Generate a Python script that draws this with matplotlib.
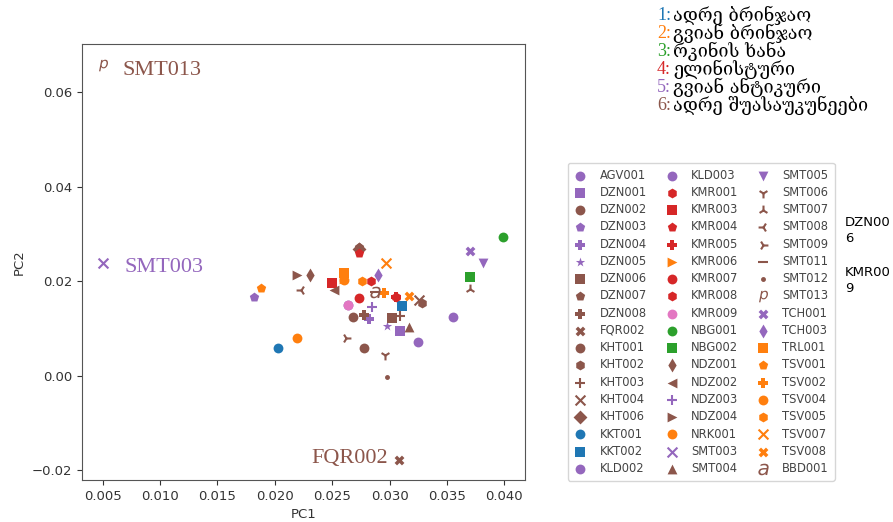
import matplotlib
matplotlib.use("Agg")
import matplotlib.pyplot as plt

# sample data: PC1, PC2, colour, marker
samples = ["AGV001", "DZN001", "DZN002", "DZN003", "DZN004", "DZN005", "DZN006", "DZN007", "DZN008",
           "FQR002", "KHT001", "KHT002", "KHT003", "KHT004", "KHT006", "KKT001", "KKT002", "KLD002",
           "KLD003", "KMR001", "KMR003", "KMR004", "KMR005", "KMR006", "KMR007", "KMR008", "KMR009",
           "NBG001", "NBG002", "NDZ001", "NDZ002", "NDZ003", "NDZ004", "NRK001", "SMT003", "SMT004",
           "SMT005", "SMT006", "SMT007", "SMT008", "SMT009", "SMT011", "SMT012", "SMT013", "TCH001",
           "TCH003", "TRL001", "TSV001", "TSV002", "TSV004", "TSV005", "TSV007", "TSV008", "BBD001"]
pc1 = [0.0355, 0.0309, 0.0268, 0.0182, 0.0282, 0.0298, 0.0302, 0.0273, 0.0278,
       0.0308, 0.0278, 0.0328, 0.0309, 0.0326, 0.0273, 0.0203, 0.0311, 0.0264,
       0.0325, 0.0284, 0.0250, 0.0273, 0.0306, 0.0260, 0.0273, 0.0306, 0.0264,
       0.0399, 0.0370, 0.0231, 0.0252, 0.0285, 0.0219, 0.0219, 0.0050, 0.0317,
       0.0381, 0.0296, 0.0370, 0.0223, 0.0262, 0.0287, 0.0298, 0.0050, 0.0370,
       0.0290, 0.0260, 0.0188, 0.0295, 0.0260, 0.0276, 0.0297, 0.0317, 0.0287]
pc2 = [0.0124, 0.0094, 0.0124, 0.0166, 0.0119, 0.0104, 0.0122, 0.0272, 0.0128,
       -0.0178, 0.0058, 0.0153, 0.0126, 0.0160, 0.0268, 0.0058, 0.0147, 0.0150,
       0.0071, 0.0200, 0.0197, 0.0259, 0.0166, 0.0205, 0.0164, 0.0166, 0.0150,
       0.0294, 0.0209, 0.0214, 0.0182, 0.0145, 0.0214, 0.0079, 0.0238, 0.0103,
       0.0238, 0.0043, 0.0183, 0.0182, 0.0079, 0.0176, -0.0004, 0.0657, 0.0264,
       0.0213, 0.0217, 0.0185, 0.0174, 0.0202, 0.0200, 0.0238, 0.0168, 0.0176]
colors = ["tab:purple", "tab:purple", "tab:brown", "tab:purple", "tab:purple", "tab:purple", "tab:brown", "tab:brown", "tab:brown",
          "tab:brown", "tab:brown", "tab:brown", "tab:brown", "tab:brown", "tab:brown", "tab:blue", "tab:blue", "tab:purple",
          "tab:purple", "tab:red", "tab:red", "tab:red", "tab:red", "tab:orange", "tab:red", "tab:red", "tab:pink",
          "tab:green", "tab:green", "tab:brown", "tab:brown", "tab:purple", "tab:brown", "tab:orange", "tab:purple", "tab:brown",
          "tab:purple", "tab:brown", "tab:brown", "tab:brown", "tab:brown", "tab:brown", "tab:brown", "tab:brown", "tab:purple",
          "tab:purple", "tab:orange", "tab:orange", "tab:orange", "tab:orange", "tab:orange", "tab:orange", "tab:orange", "tab:brown"]
markers = ["o", "s", "o", "p", "P", "*", "s", "p", "P",
           "X", "o", "h", "+", "x", "D", "o", "s", "o",
           "o", "h", "s", "p", "P", ">", "o", "h", "o",
           "o", "s", "d", "<", "+", ">", "o", "x", "^",
           "v", "1", "2", "3", "4", "_", ".", "$p$", "X",
           "d", "s", "p", "P", "o", "h", "x", "X", "$a$"]

# periods (Georgian)
period_nums = ["1:", "2:", "3:", "4:", "5:", "6:"]
period_names = ["ადრე ბრინჯაო", "გვიან ბრინჯაო", "რკინის ხანა", "ელინისტური", "გვიან ანტიკური", "ადრე შუასაუკუნეები"]
period_colors = ["tab:blue", "tab:orange", "tab:green", "tab:red", "tab:purple", "tab:brown"]

fig = plt.figure(figsize=(8.93, 5.22), dpi=100)
ax = fig.add_axes([82 / 893, 42 / 522, 443 / 893, 436 / 522])

for i in range(len(samples)):
    size = 70 if markers[i].startswith("$") else 50
    ax.scatter(pc1[i], pc2[i], c=colors[i], marker=markers[i], s=size, label=samples[i],
               linewidths=1.5 if markers[i] in ["+", "x", "1", "2", "3", "4", "_"] else 0)

ax.set_xlim(0.0032, 0.0418)
ax.set_ylim(-0.0221, 0.0702)
ax.set_xticks([0.005, 0.010, 0.015, 0.020, 0.025, 0.030, 0.035, 0.040])
ax.set_yticks([-0.02, 0.0, 0.02, 0.04, 0.06])
ax.set_xticklabels(["0.005", "0.010", "0.015", "0.020", "0.025", "0.030", "0.035", "0.040"])
ax.set_yticklabels(["\u22120.02", "0.00", "0.02", "0.04", "0.06"])
ax.tick_params(labelsize=9.5, colors="#333333")
ax.set_xlabel("PC1", fontsize=9.5, color="#333333")
ax.set_ylabel("PC2", fontsize=9.5, color="#333333")
for sp in ax.spines.values():
    sp.set_color("#555555")

# labels for outliers
serif = "Liberation Serif"
ax.annotate("SMT013", (pc1[43], pc2[43]), xytext=(14, -4), textcoords="offset points",
            fontsize=16, family=serif, color="tab:brown", va="center")
ax.annotate("SMT003", (pc1[34], pc2[34]), xytext=(16, -3), textcoords="offset points",
            fontsize=16, family=serif, color="tab:purple", va="center")
ax.annotate("FQR002", (pc1[9], pc2[9]), xytext=(-8, 1), textcoords="offset points",
            fontsize=16, family=serif, color="tab:brown", va="center", ha="right")

leg = fig.legend(loc="upper left", bbox_to_anchor=(562 / 893, 1 - 157 / 522), ncol=3,
                 fontsize=8.3, labelspacing=0.37, handlelength=1.2, handletextpad=1.1,
                 columnspacing=1.5, borderpad=0.5, frameon=True, fancybox=True,
                 edgecolor="#cccccc", scatterpoints=1)
for t in leg.get_texts():
    t.set_color("#444444")

fig.text(845 / 893, 1 - 231 / 522, "DZN00\n6", fontsize=9.5, va="center", ha="left", linespacing=1.3)
fig.text(845 / 893, 1 - 281 / 522, "KMR00\n9", fontsize=9.5, va="center", ha="left", linespacing=1.3)

for i in range(len(period_names)):
    y = 1 - (15 + i * 18) / 522
    fig.text(657 / 893, y, period_nums[i], fontsize=13, family=serif, color=period_colors[i], va="center")
    fig.text(673 / 893, y, period_names[i], fontsize=13, family=["DejaVu Serif", "DejaVu Sans"],
             color="black", va="center")

fig.savefig("out.png", dpi=100)
